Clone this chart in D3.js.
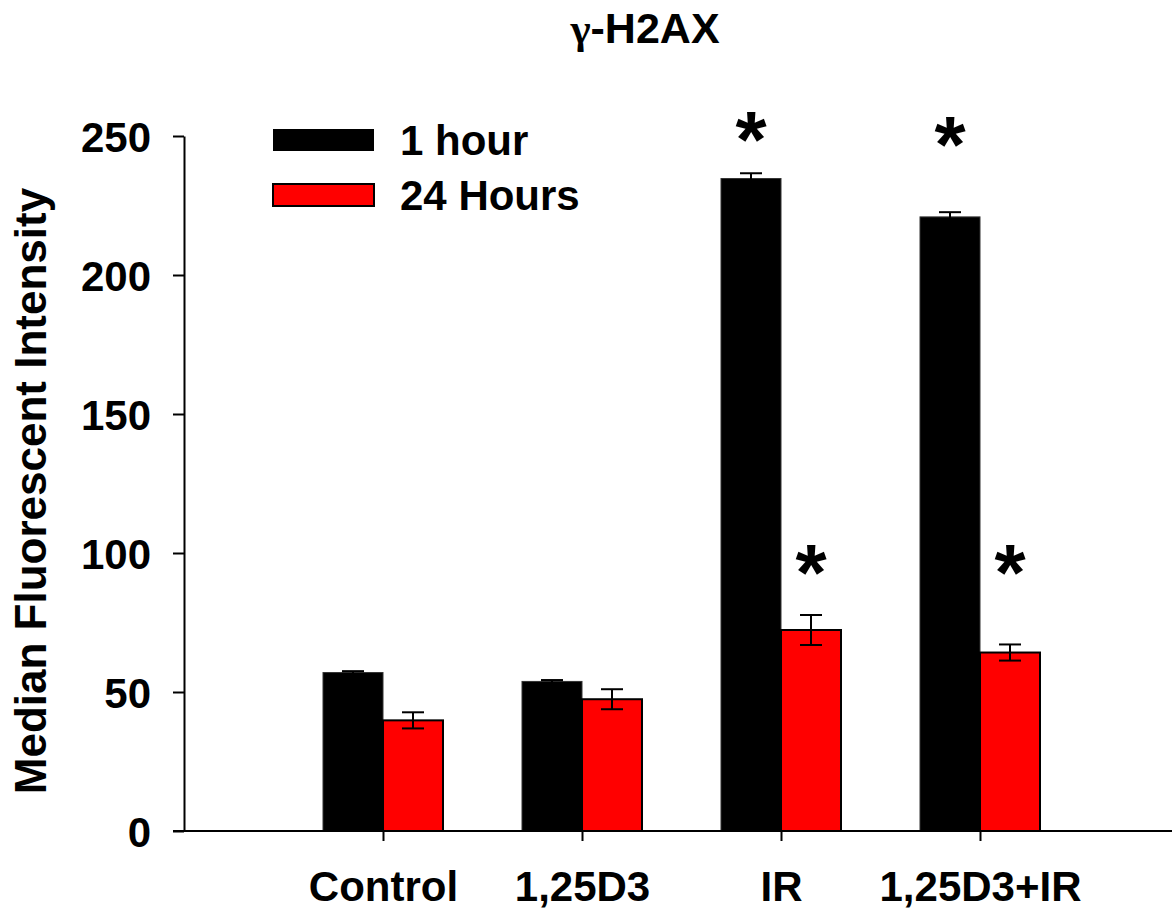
<!DOCTYPE html>
<html lang="en">
<head>
    <meta charset="UTF-8">
    <title>gamma-H2AX</title>
    <script src="https://cdnjs.cloudflare.com/ajax/libs/d3/7.8.5/d3.min.js"></script>
    <style>
        body {
            margin: 0;
            padding: 0;
            background-color: white;
        }
        svg text {
            font-family: "Liberation Sans", Arial, sans-serif;
            font-weight: bold;
        }
    </style>
</head>
<body>
    <div id="chart"></div>

    <script>
        // Data
        const groups = ['Control', '1,25D3', 'IR', '1,25D3+IR'];
        const seriesNames = ['1 hour', '24 Hours'];
        const seriesColors = ['#000000', '#ff0000'];
        const oneHour = [57.0, 53.8, 234.7, 220.9];
        const oneHourErr = [0.5, 0.5, 1.9, 1.7];
        const twentyFourHours = [39.8, 47.4, 72.3, 64.2];
        const twentyFourHoursErr = [2.9, 3.6, 5.4, 2.9];
        // significance marks: [group, series, height in data units]
        const stars = [
            ['IR', 0, 252.5],
            ['1,25D3+IR', 0, 251],
            ['IR', 1, 97],
            ['1,25D3+IR', 1, 97]
        ];
        const yTicks = [0, 50, 100, 150, 200, 250];

        const width = 1172;
        const height = 911;
        const margin = {top: 136, right: 0, bottom: 80, left: 184};

        const svg = d3.select('#chart')
            .append('svg')
            .attr('width', width)
            .attr('height', height);

        const x = d3.scalePoint()
            .domain(groups)
            .range([margin.left, margin.left + 995])
            .padding(1);

        const y = d3.scaleLinear()
            .domain([0, 250])
            .range([831, margin.top]);

        const barW = 60;

        const rows = [];
        groups.forEach((g, i) => {
            rows.push({group: g, s: 0, value: oneHour[i], err: oneHourErr[i]});
            rows.push({group: g, s: 1, value: twentyFourHours[i], err: twentyFourHoursErr[i]});
        });
        const barX = d => x(d.group) + (d.s === 0 ? -barW : 0);

        // Bars
        svg.append('g')
            .selectAll('rect')
            .data(rows)
            .enter().append('rect')
            .attr('x', barX)
            .attr('y', d => y(d.value))
            .attr('width', barW)
            .attr('height', d => y(0) - y(d.value))
            .attr('fill', d => seriesColors[d.s])
            .attr('stroke', d => d.s === 0 ? '#333' : '#000')
            .attr('stroke-width', d => d.s === 0 ? 1 : 2);

        // Error bars
        const err = svg.append('g')
            .attr('stroke', '#000')
            .attr('stroke-width', 2)
            .selectAll('g')
            .data(rows)
            .enter().append('g');
        err.append('line')
            .attr('x1', d => barX(d) + barW / 2)
            .attr('x2', d => barX(d) + barW / 2)
            .attr('y1', d => y(d.value - d.err))
            .attr('y2', d => y(d.value + d.err));
        err.selectAll('.cap')
            .data(d => [d.value - d.err, d.value + d.err].map(v => ({d, v})))
            .enter().append('line')
            .attr('x1', c => barX(c.d) + barW / 2 - 11)
            .attr('x2', c => barX(c.d) + barW / 2 + 11)
            .attr('y1', c => y(c.v))
            .attr('y2', c => y(c.v));

        // Axes
        const yAxis = svg.append('g')
            .attr('transform', `translate(${margin.left},0)`)
            .call(d3.axisLeft(y).tickValues(yTicks).tickSize(11).tickSizeOuter(0).tickPadding(22));
        yAxis.selectAll('text')
            .style('font-size', '42px')
            .attr('dy', '0.36em');

        const xAxis = svg.append('g')
            .attr('transform', `translate(0,${y(0)})`)
            .call(d3.axisBottom(x).tickSize(10).tickSizeOuter(0));
        xAxis.select('.domain').attr('d', `M${margin.left - 11},0H${width}`);
        xAxis.selectAll('text')
            .style('font-size', '42px')
            .attr('y', 70)
            .attr('dy', 0);

        svg.selectAll('.domain, .tick line')
            .attr('stroke', '#000')
            .attr('stroke-width', 2);

        // Stars
        svg.append('g')
            .selectAll('text')
            .data(stars)
            .enter().append('text')
            .attr('x', d => x(d[0]) + (d[1] === 0 ? -barW / 2 : barW / 2))
            .attr('y', d => y(d[2]))
            .attr('text-anchor', 'middle')
            .attr('dy', '0.48em')
            .style('font-size', '80px')
            .text('*');

        // Title
        const title = svg.append('text')
            .attr('x', 645)
            .attr('y', 43)
            .attr('text-anchor', 'middle')
            .style('font-size', '43px');
        title.append('tspan')
            .style('font-family', '"Liberation Serif", "DejaVu Serif", serif')
            .text('γ');
        title.append('tspan').text('-H2AX');

        // Y label
        svg.append('text')
            .attr('transform', 'translate(46,491) rotate(-90)')
            .attr('text-anchor', 'middle')
            .style('font-size', '44px')
            .text('Median Fluorescent Intensity');

        // Legend
        const legend = svg.append('g')
            .selectAll('g')
            .data(seriesNames)
            .enter().append('g')
            .attr('transform', (d, i) => `translate(273,${129 + i * 55})`);
        legend.append('rect')
            .attr('width', 101)
            .attr('height', 22)
            .attr('fill', (d, i) => seriesColors[i])
            .attr('stroke', '#000')
            .attr('stroke-width', (d, i) => i === 0 ? 0 : 2);
        legend.append('text')
            .attr('x', 127)
            .attr('y', 26)
            .style('font-size', '42px')
            .text(d => d);
    </script>
</body>
</html>
